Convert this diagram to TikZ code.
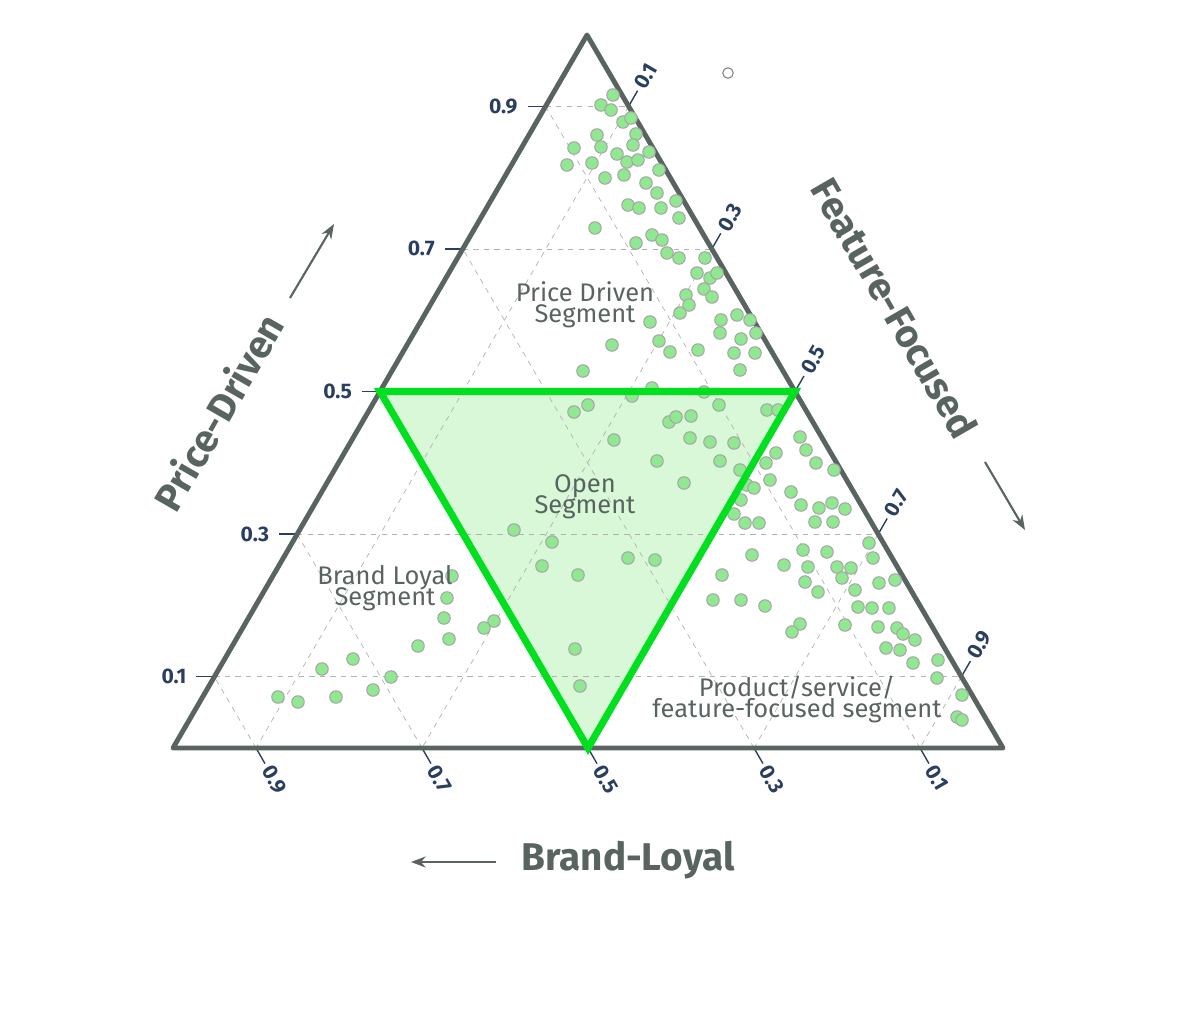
\documentclass[tikz,border=0pt]{standalone}
\usepackage{fontspec}
\setmainfont{Fira Sans}
\usepackage{xcolor}
\usetikzlibrary{positioning,arrows.meta}
\definecolor{slate}{HTML}{596461}
\definecolor{ink}{HTML}{2A3F5F}
\definecolor{dotgreen}{HTML}{90E890}
\definecolor{neon}{HTML}{00E01E}
\definecolor{palegreen}{HTML}{D8F8D8}
\tikzset{
  gridline/.style={gray!60, dashed, line width=0.4pt},
  tick/.style={ink, line width=0.8pt},
  ticklabel/.style={ink, font=\fontsize{12}{13}\selectfont\bfseries},
  segment/.style={slate, align=center, font=\fontsize{14.5}{15}\selectfont},
  axistitle/.style={slate, font=\fontsize{22}{24}\selectfont\bfseries},
  pt/.style={circle, fill=dotgreen, draw=gray!70, line width=0.6pt, inner sep=0pt, minimum size=2.5mm},
}
\begin{document}
\begin{tikzpicture}[x=0.02cm, y=-0.02cm, >=Stealth]
	\useasboundingbox (0,0) rectangle (1178,1021);
	\coordinate (T) at (587,35);
	\coordinate (L) at (173,748);
	\coordinate (R) at (1003,748);

	% open segment
	\coordinate (m1) at (barycentric cs:T=1,L=1);
	\coordinate (m2) at (barycentric cs:T=1,R=1);
	\coordinate (m3) at (barycentric cs:L=1,R=1);
	\fill[palegreen] (m1) -- (m2) -- (m3) -- cycle;

	% grid
	\foreach \v in {0.1,0.3,0.5,0.7,0.9} {
		\pgfmathsetmacro{\w}{1-\v}
		\draw[gridline] (barycentric cs:T=\v,L=\w) -- (barycentric cs:T=\v,R=\w);
		\draw[gridline] (barycentric cs:L=\v,R=\w) -- (barycentric cs:L=\v,T=\w);
		\draw[gridline] (barycentric cs:R=\v,T=\w) -- (barycentric cs:R=\v,L=\w);
	}

	% ticks
	\foreach \v in {0.1,0.3,0.5,0.7,0.9} {
		\pgfmathsetmacro{\w}{1-\v}
		\coordinate (pa) at (barycentric cs:T=\v,L=\w);
		\draw[tick] (pa) -- ++(-18,0) node[ticklabel, left=2pt] {\v};
		\coordinate (pc) at (barycentric cs:R=\v,T=\w);
		\draw[tick] (pc) -- ++(9,-15.6) node[ticklabel, rotate=60, anchor=west, inner sep=2pt] {\v};
		\coordinate (pb) at (barycentric cs:L=\v,R=\w);
		\draw[tick] (pb) -- ++(9,15.6) node[ticklabel, rotate=-60, anchor=west, inner sep=2pt] {\v};
	}

	\draw[slate, line width=2.8pt, line join=round] (T) -- (L) -- (R) -- cycle;

	% points
	\foreach \x/\y in {613/95,601/105,611/110,623/122,631/118,597/135,636/134,574/148,601/147,617/154,633/145,649/152,567/165,592/163,627/162,638/160,605/178,624/175,646/183,659/170,657/193,628/205,639/208,661/208,676/201,679/218,595/228,636/243,652/235,662/240,667/253,705/258,679/258,697/273,710/278,717/273,704/289,686/295,712/297,689/305,680/313,721/320,737/315,720/333,750/320,650/322,659/341,741/339,756/333,698/350,734/353,755/353,670/352,612/345,583/371,740/370,652/388,704/392,632/396,588/405,574/412,669/422,676/417,691/416,719/405,767/410,778/410,614/440,690/438,710/442,734/443,657/461,720/461,800/437,776/453,766/463,806/450,816/463,834/470,740/470,684/483,747/485,754/488,770/480,791/492,741/500,734/514,801/505,819/508,832/503,845/509,759/523,745/523,815/522,833/522,869/543,827/552,803/550,752/555,873/558,784/565,808/567,837/567,851/568,842/578,805/582,818/592,855/590,879/583,895/580,722/575,713/600,741/600,765/606,858/607,872/608,889/608,845/625,800/624,792/632,878/627,897/628,903/634,886/648,915/640,900/650,913/663,938/660,937/678,962/695,957/717,962/720,514/530,552/542,452/576,542/566,578/575,628/558,655/560,447/598,444/618,494/621,484/628,449/639,418/646,575/649,353/659,322/669,391/677,580/686,373/690,278/697,298/702,336/697}
		\node[pt] at (\x,\y) {};
	\node[circle, draw=gray, line width=0.6pt, inner sep=0pt, minimum size=2.1mm] (outlier) at (728,73) {};

	\draw[neon, line width=4pt, line join=miter] (m1) -- (m2) -- (m3) -- cycle;

	% segment labels
	\node[segment] (price) at (585,305) {Price Driven\\[-3pt]Segment};
	\node[segment] (open) at (585,497) {Open\\[-3pt]Segment};
	\node[segment] (brand) at (385,588) {Brand Loyal\\[-3pt]Segment};
	\node[segment] (product) at (797,699) {Product/service/\\[-3pt]feature-focused segment};

	% axis titles
	\node[axistitle, rotate=60] (pricetitle) at (218,412) {Price-Driven};
	\coordinate (pa1) at (290,298);
	\coordinate (pa2) at (334,224);
	\draw[->, slate, line width=1.2pt] (pa1) -- (pa2);
	\node[axistitle, rotate=-60] (featuretitle) at (895,308) {Feature-Focused};
	\coordinate (fa1) at (985,462);
	\coordinate (fa2) at (1025,530);
	\draw[->, slate, line width=1.2pt] (fa1) -- (fa2);
	\node[axistitle] (brandtitle) at (628,860) {Brand-Loyal};
	\coordinate (ba1) at (496,862);
	\coordinate (ba2) at (411,862);
	\draw[->, slate, line width=1.2pt] (ba1) -- (ba2);
\end{tikzpicture}
\end{document}
